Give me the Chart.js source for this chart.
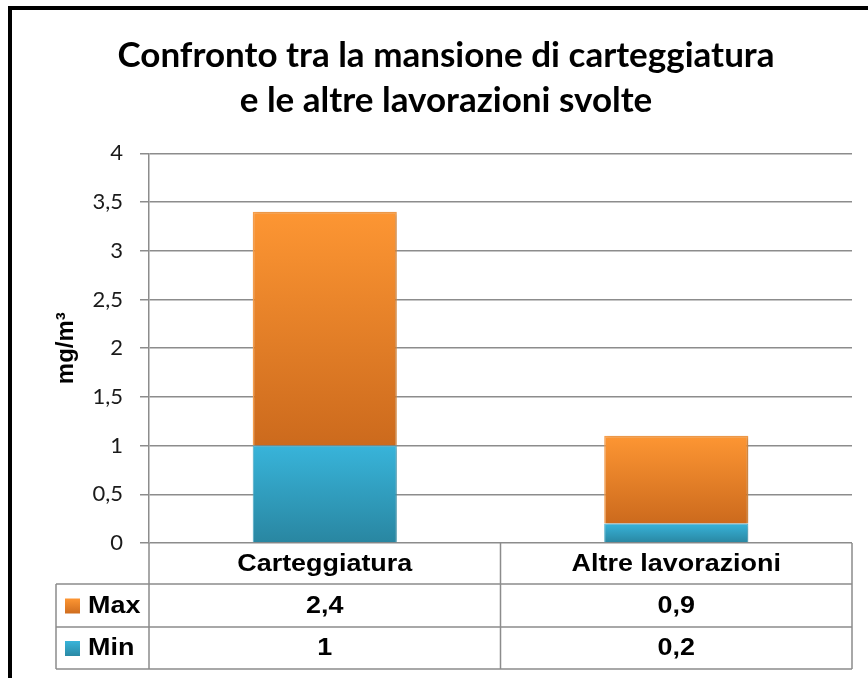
<!DOCTYPE html>
<html>
<head>
<meta charset="utf-8">
<script src="https://cdn.jsdelivr.net/npm/chart.js@4/dist/chart.umd.min.js"></script>
<style>
  body { margin: 0; background: #fff; }
  #grafico { display: block; }
</style>
</head>
<body>
<canvas id="grafico" width="868" height="678"></canvas>
<script>
// dati del grafico
const categorie = ['Carteggiatura', 'Altre lavorazioni'];
const valoriMin = [1, 0.2];
const valoriMax = [2.4, 0.9];
const etichetteY = ['0', '0,5', '1', '1,5', '2', '2,5', '3', '3,5', '4'];
const titolo = ['Confronto tra la mansione di carteggiatura', 'e le altre lavorazioni svolte'];

const arancio = { alto: '#fd9633', basso: '#cc6a1d', bordo: '#f9a04c' };
const azzurro = { alto: '#38b4da', basso: '#2986a1', bordo: '#4cb0cd' };

function virgola(v) {
    return String(v).replace('.', ',');
}

// gradiente verticale per ogni pezzo della barra
function riempimento(colori, base, altezza) {
    return (context) => {
        const chart = context.chart;
        if (!chart.chartArea || !chart.scales.y) return colori.alto;
        const i = context.dataIndex;
        const y = chart.scales.y;
        const b = base ? base[i] : 0;
        const top = y.getPixelForValue(b + altezza[i]);
        const bottom = y.getPixelForValue(b);
        if (!isFinite(top) || !isFinite(bottom) || top === bottom) return colori.alto;
        const g = chart.ctx.createLinearGradient(0, top, 0, bottom);
        g.addColorStop(0, colori.alto);
        g.addColorStop(1, colori.basso);
        return g;
    };
}

function testoLargo(ctx, testo, x, y, sx) {
    ctx.save();
    ctx.translate(x, y);
    ctx.scale(sx, 1);
    ctx.fillText(testo, 0, 0);
    ctx.restore();
}

// ombra leggera sotto le barre
const ombraBarre = {
    id: 'ombraBarre',
    beforeDatasetsDraw(chart) {
        const ctx = chart.ctx;
        ctx.save();
        ctx.shadowColor = 'rgba(0,0,0,0.22)';
        ctx.shadowBlur = 4;
        ctx.shadowOffsetX = 2;
        ctx.shadowOffsetY = 1;
    },
    afterDatasetsDraw(chart) {
        chart.ctx.restore();
    }
};

// tabella dati sotto il grafico + cornice nera
const tabellaDati = {
    id: 'tabellaDati',
    afterDraw(chart) {
        const ctx = chart.ctx;
        const area = chart.chartArea;
        const x = chart.scales.x;
        const sinistra = 56;
        const righe = [area.bottom, area.bottom + 41, area.bottom + 84, area.bottom + 126];
        const colonne = [area.left];
        for (let i = 0; i < categorie.length - 1; i++) {
            colonne.push((x.getPixelForValue(i) + x.getPixelForValue(i + 1)) / 2);
        }
        colonne.push(area.right);

        ctx.save();
        ctx.strokeStyle = '#8c8c8c';
        ctx.lineWidth = 1.5;
        ctx.beginPath();
        colonne.forEach((cx) => {
            ctx.moveTo(cx, righe[0]);
            ctx.lineTo(cx, righe[3]);
        });
        ctx.moveTo(sinistra, righe[1]);
        ctx.lineTo(sinistra, righe[3]);
        for (let r = 1; r < righe.length; r++) {
            ctx.moveTo(sinistra, righe[r]);
            ctx.lineTo(area.right, righe[r]);
        }
        ctx.stroke();

        ctx.fillStyle = '#000';
        ctx.font = 'bold 23px "Liberation Sans", Arial, sans-serif';
        ctx.textBaseline = 'middle';
        ctx.textAlign = 'center';
        categorie.forEach((c, i) => {
            testoLargo(ctx, c, x.getPixelForValue(i), (righe[0] + righe[1]) / 2 + 1, 1.17);
        });
        const serie = [
            { nome: 'Max', valori: valoriMax, colori: arancio },
            { nome: 'Min', valori: valoriMin, colori: azzurro }
        ];
        serie.forEach((s, r) => {
            const cy = (righe[r + 1] + righe[r + 2]) / 2 + 1;
            s.valori.forEach((v, i) => {
                ctx.textAlign = 'center';
                testoLargo(ctx, virgola(v), x.getPixelForValue(i), cy, 1.17);
            });
            const g = ctx.createLinearGradient(0, cy - 8, 0, cy + 8);
            g.addColorStop(0, s.colori.alto);
            g.addColorStop(1, s.colori.basso);
            ctx.fillStyle = g;
            ctx.fillRect(65, cy - 8, 15, 15);
            ctx.fillStyle = '#000';
            ctx.textAlign = 'left';
            testoLargo(ctx, s.nome, 88, cy, 1.17);
        });

        // cornice
        ctx.fillStyle = '#000';
        ctx.fillRect(8, 6, 4, chart.height - 6);
        ctx.fillRect(8, 6, chart.width - 8, 4);
        ctx.restore();
    }
};

const dati = {
    labels: categorie,
    datasets: [
        {
            label: 'Min',
            data: valoriMin,
            backgroundColor: riempimento(azzurro, null, valoriMin),
            borderColor: azzurro.bordo,
            borderWidth: 1
        },
        {
            label: 'Max',
            data: valoriMax,
            backgroundColor: riempimento(arancio, valoriMin, valoriMax),
            borderColor: arancio.bordo,
            borderWidth: 1.5
        }
    ]
};

const config = {
    type: 'bar',
    data: dati,
    options: {
        responsive: false,
        animation: false,
        categoryPercentage: 1,
        barPercentage: 0.41,
        layout: { padding: { left: 40, right: 16, top: 0, bottom: 0 } },
        plugins: {
            legend: { display: false },
            tooltip: { enabled: false },
            title: {
                display: true,
                text: titolo,
                color: '#000',
                font: { family: 'Lato, "Open Sans", sans-serif', size: 35, weight: 'bold', lineHeight: 1.29 },
                padding: { top: 33, bottom: 30 }
            }
        },
        scales: {
            x: {
                stacked: true,
                grid: { display: false },
                border: { display: false },
                ticks: { display: false },
                afterFit(scale) { scale.height = 135; }
            },
            y: {
                stacked: true,
                min: 0,
                max: 4,
                afterFit(scale) { scale.width = 109; },
                ticks: {
                    stepSize: 0.5,
                    padding: 17,
                    color: '#1a1a1a',
                    font: { family: 'Lato, "Open Sans", sans-serif', size: 22 },
                    callback: (value, index) => etichetteY[index]
                },
                grid: { color: '#8c8c8c', lineWidth: 1.5, tickLength: 9 },
                border: { color: '#8c8c8c', width: 1.5 },
                title: {
                    display: true,
                    text: 'mg/m³',
                    color: '#000',
                    font: { family: '"Liberation Sans", Arial, sans-serif', size: 24, weight: 'bold' },
                    padding: { top: 12, bottom: 0 }
                }
            }
        }
    },
    plugins: [ombraBarre, tabellaDati]
};

new Chart(document.getElementById('grafico'), config);
</script>
</body>
</html>
